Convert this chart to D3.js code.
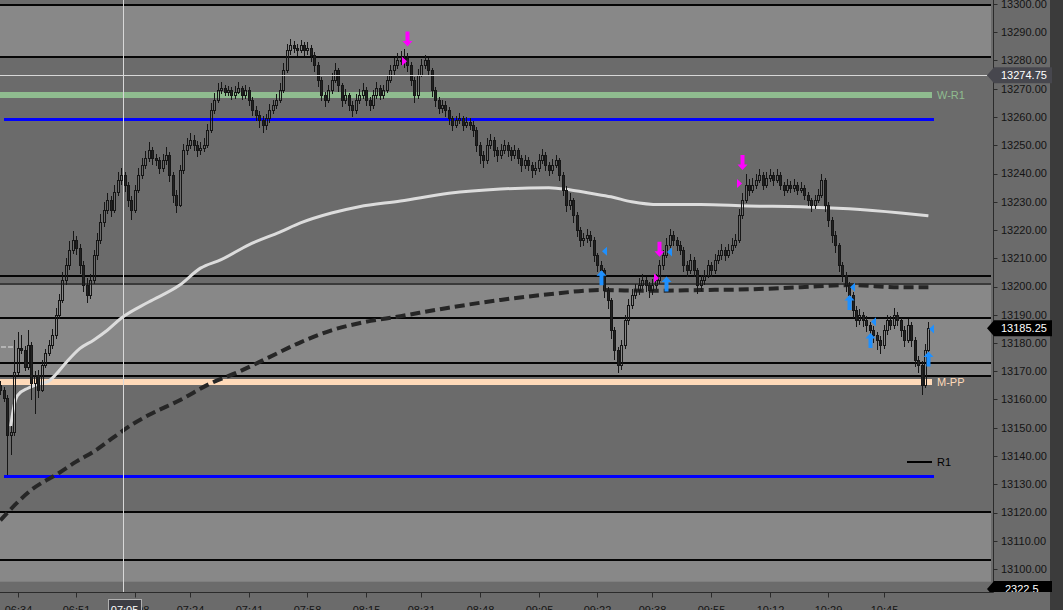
<!DOCTYPE html>
<html><head><meta charset="utf-8">
<script src="https://cdn.jsdelivr.net/npm/d3@7"></script>
<style>
html,body{margin:0;padding:0;background:#6b6b6b;overflow:hidden}
svg{display:block}
text{font-family:"Liberation Sans",Arial,sans-serif}
</style>
</head><body>
<svg id="c" width="1063" height="610"></svg>
<script>
// ---------- DATA ----------
const startTime = "06:29"; // first 1-minute bar
const opens = [
13165,13163.5,13160.5,13147.5,13148.5,13169.75,13178.25,13177.5,13171.5,13179.25,
13165.75,13168.75,13163.5,13172.25,13176.5,13179.25,13182.75,13190,13195.25,13202.25,
13207.5,13213,13216.5,13213.75,13207.5,13200.5,13197,13202.25,13211,13216.5,
13222.75,13227,13230.5,13227,13233.5,13237.75,13239.5,13236,13230.5,13227,
13234.25,13239.5,13243,13245.5,13248.25,13245.5,13244.75,13242,13244.75,13246.5,
13239.5,13232.5,13229,13241.25,13248.25,13250,13252,13250,13248.25,13249,
13250,13255.5,13262.5,13266,13269.5,13270.25,13269,13269.5,13267.75,13269,
13270.25,13267.75,13269.5,13266,13262.5,13260.75,13259,13257.25,13259.5,13262.5,
13264.25,13266,13269.5,13276.5,13283.75,13285.5,13284.5,13283.75,13285.5,13283.75,
13284.5,13282,13278.5,13273,13267.75,13266,13269.5,13273,13276.5,13271.25,
13266,13267.75,13264.25,13262.5,13266,13267.75,13269.5,13266,13264.25,13267.75,
13270.25,13267.75,13269.5,13273,13276.5,13278.5,13280.25,13280.25,13281,13278.5,
13273,13267.75,13275,13278.5,13280.25,13276.5,13269.5,13266,13263.25,13264.25,
13262.5,13259.5,13257.25,13259,13259.5,13257.25,13258.25,13257.25,13255.5,13250,
13246.5,13244.75,13250,13252,13248.25,13246.5,13248.25,13250,13248.25,13246.5,
13248.25,13245.5,13243,13244.75,13243,13241.25,13242,13244.75,13246.5,13243,
13241.25,13243,13244.75,13239.5,13234.25,13229,13230.5,13225.25,13220,13216.5,
13217.25,13218.25,13216.5,13211,13207.5,13205.75,13198.75,13195.25,13184.5,13177.5,
13172.25,13179.25,13188,13193.5,13197,13198.75,13200.5,13202.25,13200.5,13198.75,
13200.5,13202.25,13207.5,13211,13214.75,13218.25,13216.5,13214.75,13213,13207.5,
13205.75,13209.5,13205.75,13200.5,13202.25,13204,13207.5,13205.75,13209.5,13211,
13213,13211,13213,13214.75,13216.5,13225.25,13230.5,13236,13234.25,13236,
13237.75,13239.5,13236,13238.5,13239.5,13237.75,13239.5,13236,13234.25,13236,
13235,13236,13234.25,13235,13232.5,13230.5,13229,13230.5,13232.5,13237.75,
13229,13223.5,13218.25,13214.75,13207.5,13204,13200.5,13197,13191.75,13188,
13190,13188,13186.5,13184.5,13182.75,13181,13179.25,13184.5,13188,13186.5,
13190,13188,13184.5,13181,13186.5,13181,13174,13172.25,13165,13177.5];
const highs = [
13166.5,13164.25,13161.5,13150.5,13181,13184,13183,13179,13184.5,13180.5,
13170,13170.5,13174,13178,13181,13185,13192.5,13197.5,13205,13210,
13216,13219.5,13218,13215,13209,13203,13204.5,13213,13219,13225.5,
13230,13233,13232,13236,13240.5,13242,13240.5,13237,13232,13236,
13242,13245.5,13248,13251,13249.5,13247,13246,13247,13249.5,13247.5,
13240.5,13234,13243,13250.5,13252.5,13254.5,13253.5,13251.5,13251,13252.5,
13257.5,13265,13268.5,13272,13272.5,13271.5,13271,13270.5,13271,13272.5,
13271,13271.5,13270.5,13267,13264,13262,13260.5,13261,13264.5,13266,
13268,13272,13279,13286,13287.5,13287,13286,13287.25,13286.5,13286.5,
13285.5,13283,13279.5,13274,13269,13271.5,13275.5,13279,13277.5,13272,
13270,13268.5,13265.5,13268,13270,13272,13270.5,13267,13269.5,13272.5,
13271.5,13271.5,13275,13278.5,13281,13282.5,13283.5,13284,13282.5,13279.5,
13274,13277,13280.5,13282,13281,13277.5,13270.5,13267,13266,13265.5,
13263.5,13260.5,13260.5,13261.5,13260.5,13260,13259.5,13258.5,13256.5,13251,
13248,13252.5,13254,13253,13249.5,13250.5,13252,13251,13249.5,13250,
13249,13246.5,13246.5,13246,13244,13244,13247,13248.5,13247.5,13244,
13245,13246.5,13245.5,13240.5,13235.5,13233,13231.5,13226.5,13221,13219,
13220.5,13219.5,13217.5,13212,13209,13206.5,13200,13196,13185.5,13178.5,
13181,13190,13195.5,13199,13201,13203,13204.5,13203.5,13201.5,13202.5,
13204.5,13209.5,13213,13217,13220.5,13219.5,13217.5,13216,13214,13209,
13211.5,13210.5,13206.5,13204,13206,13209.5,13208.5,13211.5,13213,13215,
13214,13215,13217,13218.5,13227.5,13233,13240,13238,13238.5,13240,
13241.75,13240.5,13240.5,13241.75,13240.5,13241.5,13240.5,13237,13238,13237.5,
13238,13237,13237,13236,13233.5,13231.5,13232.5,13234.5,13240,13238.5,
13230,13224.5,13219.5,13215.5,13208.5,13205,13201.5,13198,13193,13192,
13191,13189.5,13187.5,13186,13184,13182.5,13186.5,13190,13189.5,13192.5,
13191,13189,13186,13188.5,13187.5,13182,13175.5,13173.5,13179.5,13187.5];
const lows = [
13161.5,13159,13133.25,13140.25,13147,13168.5,13176,13170,13170.5,13160,
13155,13160.5,13162.5,13171,13175.5,13178,13181.5,13188.5,13194,13200.5,
13206,13211.5,13211,13204.5,13198,13194,13195.5,13201,13209.5,13215,
13221,13225.5,13224.5,13226,13232,13236,13233.5,13228,13223.5,13226,
13233,13238,13241.5,13244,13243,13242.5,13240,13240.5,13243,13237,
13229.5,13226,13228,13240,13246.5,13248.5,13248,13246,13246.5,13247.5,
13249,13254.5,13261,13265,13268,13267.5,13267.5,13266,13266.5,13268,
13266,13266.5,13264,13260.5,13258.5,13256,13254.5,13255.5,13258,13261,
13263,13265,13268.5,13275.5,13282,13282.5,13281.5,13282.5,13281.5,13282,
13279.5,13276,13270.5,13265.5,13263.5,13265,13268,13272,13269,13263.5,
13264.5,13262,13260,13261,13264.5,13266.5,13264,13262,13263,13266.5,
13266,13266.5,13268.5,13272,13275,13277,13278.5,13277.5,13276,13271,
13265,13266.5,13274,13277,13274.5,13267,13263.5,13261,13261.5,13260,
13257,13255,13256,13257.5,13255,13256,13255.5,13253,13247.5,13243.5,
13242,13243.5,13248.5,13246,13244,13245,13247,13246,13244.5,13245,
13243.5,13240.5,13241.5,13241,13238.5,13239.5,13240.5,13243.5,13241,13239,
13240,13242,13237.5,13232,13226.5,13227,13222.5,13217.5,13214,13214.5,
13215.5,13214,13208.5,13205,13203,13196,13192,13181.5,13174,13169.5,
13170.5,13178,13186.5,13192,13195.5,13197,13199,13198,13196,13197,
13199,13201,13206,13210,13213.5,13214.5,13212.5,13211,13205,13203.5,
13204.5,13203.5,13197.5,13198.5,13200.5,13203,13203.5,13204.5,13208,13209.5,
13209,13210,13211.5,13213.5,13215.5,13224,13229.5,13232,13233,13234.5,
13236.5,13234,13235,13237,13235.5,13236.5,13234,13232,13233,13233,
13233.5,13232.5,13233,13230.5,13228.5,13226.5,13227.5,13229.5,13231.5,13226.5,
13221,13215.5,13212,13205,13201.5,13198,13194.5,13189,13185.5,13186.5,
13185.5,13184,13182,13180,13177.5,13176,13178,13183,13184.5,13185,
13186,13182,13178.5,13180,13178.5,13171.5,13169.5,13161.5,13164,13176.5];
const closes = [
13163.5,13160.5,13147.5,13148.5,13169.75,13178.25,13177.5,13171.5,13179.25,13165.75,
13168.75,13163.5,13172.25,13176.5,13179.25,13182.75,13190,13195.25,13202.25,13207.5,
13213,13216.5,13213.75,13207.5,13200.5,13197,13202.25,13211,13216.5,13222.75,
13227,13230.5,13227,13233.5,13237.75,13239.5,13236,13230.5,13227,13234.25,
13239.5,13243,13245.5,13248.25,13245.5,13244.75,13242,13244.75,13246.5,13239.5,
13232.5,13229,13241.25,13248.25,13250,13252,13250,13248.25,13249,13250,
13255.5,13262.5,13266,13269.5,13270.25,13269,13269.5,13267.75,13269,13270.25,
13267.75,13269.5,13266,13262.5,13260.75,13259,13257.25,13259.5,13262.5,13264.25,
13266,13269.5,13276.5,13283.75,13285.5,13284.5,13283.75,13285.5,13283.75,13284.5,
13282,13278.5,13273,13267.75,13266,13269.5,13273,13276.5,13271.25,13266,
13267.75,13264.25,13262.5,13266,13267.75,13269.5,13266,13264.25,13267.75,13270.25,
13267.75,13269.5,13273,13276.5,13278.5,13280.25,13280.25,13281,13278.5,13273,
13267.75,13275,13278.5,13280.25,13276.5,13269.5,13266,13263.25,13264.25,13262.5,
13259.5,13257.25,13259,13259.5,13257.25,13258.25,13257.25,13255.5,13250,13246.5,
13244.75,13250,13252,13248.25,13246.5,13248.25,13250,13248.25,13246.5,13248.25,
13245.5,13243,13244.75,13243,13241.25,13242,13244.75,13246.5,13243,13241.25,
13243,13244.75,13239.5,13234.25,13229,13230.5,13225.25,13220,13216.5,13217.25,
13218.25,13216.5,13211,13207.5,13205.75,13198.75,13195.25,13184.5,13177.5,13172.25,
13179.25,13188,13193.5,13197,13198.75,13200.5,13202.25,13200.5,13198.75,13200.5,
13202.25,13207.5,13211,13214.75,13218.25,13216.5,13214.75,13213,13207.5,13205.75,
13209.5,13205.75,13200.5,13202.25,13204,13207.5,13205.75,13209.5,13211,13213,
13211,13213,13214.75,13216.5,13225.25,13230.5,13236,13234.25,13236,13237.75,
13239.5,13236,13238.5,13239.5,13237.75,13239.5,13236,13234.25,13236,13235,
13236,13234.25,13235,13232.5,13230.5,13229,13230.5,13232.5,13237.75,13229,
13223.5,13218.25,13214.75,13207.5,13204,13200.5,13197,13191.75,13188,13190,
13188,13186.5,13184.5,13182.75,13181,13179.25,13184.5,13188,13186.5,13190,
13188,13184.5,13181,13186.5,13181,13174,13172.25,13165,13177.5,13185.25];

// moving averages (bar index, value)
const lightMAIdx = [3,4,5,8,11,14,16,19,23,27,31,35,43,52,58,64,72,81,87,96,104,116,130,145,159,165,171,177,183,191,203,217,232,246,261,269];
const lightMAVal = [13150.5,13158,13161.5,13164,13165.5,13166.5,13168.75,13173,13178,13181,13184.5,13188.75,13194.5,13200.5,13206.5,13209.5,13214.75,13219.25,13222.5,13226,13228.25,13230.25,13233,13234.5,13235,13234.25,13233,13231.75,13230,13229,13229,13228.5,13228.25,13227.5,13226,13225];
const darkMAIdx = [0,9,17,22,27,33,38,43,52,61,69,78,87,96,104,116,130,145,159,174,188,203,217,232,246,261,269];
const darkMAVal = [13117.25,13128,13134,13138,13141.5,13146.75,13151,13154.5,13159.75,13165.75,13169.75,13175,13180.25,13184.5,13187,13189.5,13192.5,13195.25,13197.25,13198.75,13198.5,13198.75,13199,13199.75,13200.5,13199.75,13199.75];

// horizontal levels
const shadedZones = [[13299.75,13281.25],[13201,13168.25],[13120.25,13095.5]];
const blackLevels = [13299.75,13281.25,13203.75,13188.75,13173,13168.25,13120.25,13103.25];
const grayLevels = [13201];
const blueLevels = [13259.25,13132.75];
const pivotNames = ["W-R1","M-PP","R1"];
const pivotPrices = [13267.75,13166.25,13138];
const pivotStartIdx = [0,0,263];
const pivotColors = ["#8fbc8f","#ffdab9","#000000"];
const pivotWidths = [6,6,2];
const priorDayPrice = 13178.5;

// signals
const buyIdx = [174,193,246,252,269];
const buyArrowPrice = [13205.75,13203.5,13197,13183.5,13177];
const buyMarkPrice = [13212.5,13212.25,13199.75,13187.5,13185];
const sellIdx = [118,191,215];
const sellArrowPrice = [13285,13210.5,13241.25];
const sellMarkPrice = [13279.75,13203,13236.5];

// axes
const priceTicks = [13300,13290,13280,13270,13260,13250,13240,13230,13220,13210,13200,13190,13180,13170,13160,13150,13140,13130,13120,13110,13100];
const timeTicks = ["06:34","06:51","07:08","07:24","07:41","07:58","08:15","08:31","08:48","09:05","09:22","09:38","09:55","10:12","10:29","10:45"];
const crossTime = "07:05";
const crossPrice = 13274.75;
const lastPrice = 13185.25;
const volumeLabel = "2322.5";

// ---------- DRAW ----------
const svg = d3.select("#c");
const plotR = 991, plotB = 582, axisX = 993.5, axisY = 592.5;
const mins = s => { const [h,m] = s.split(":").map(Number); return h*60+m; };
const idxOf = s => mins(s) - mins(startTime);
const x = d3.scaleLinear().domain([0, closes.length-1]).range([0.35, 928.4]);
const y = d3.scaleLinear().domain([13100, 13300]).range([569, 4]);
const fmt = d3.format(".2f");

svg.append("rect").attr("width",1063).attr("height",610).attr("fill","#6b6b6b");
const defs = svg.append("defs");
defs.append("clipPath").attr("id","plot").append("rect").attr("x",0).attr("y",0).attr("width",plotR).attr("height",plotB);
defs.append("clipPath").attr("id","raxis").append("rect").attr("x",980).attr("y",0).attr("width",83).attr("height",axisY-0.5);

const plot = svg.append("g").attr("clip-path","url(#plot)");

// zones
plot.selectAll("rect.zone").data(shadedZones).join("rect").attr("class","zone")
  .attr("x",0).attr("width",plotR)
  .attr("y",d=>y(d[0])).attr("height",d=>y(d[1])-y(d[0]))
  .attr("fill","#888888");

const hline = (g, p, x1, x2, color, w, dash) => {
  const yy = Math.round(y(p));
  const l = g.append("line").attr("x1",x1).attr("x2",x2).attr("y1",yy).attr("y2",yy)
    .attr("stroke",color).attr("stroke-width",w).attr("shape-rendering","crispEdges");
  if (dash) l.attr("stroke-dasharray",dash);
  return l;
};
blackLevels.forEach(p=>hline(plot,p,0,plotR,"#050505",2));
grayLevels.forEach(p=>hline(plot,p,0,plotR,"#3a3a3a",2));
blueLevels.forEach(p=>hline(plot,p,x(1),934,"#0000ff",3));
pivotPrices.forEach((p,i)=>{
  const x1 = pivotStartIdx[i]===0 ? 0 : x(pivotStartIdx[i]) - 1;
  hline(plot,p,x1,932,pivotColors[i],pivotWidths[i]);
  plot.append("text").attr("x",937).attr("y",y(p)).attr("dy","0.36em")
    .attr("font-size",11).attr("fill",pivotColors[i]).text(pivotNames[i]);
});
hline(plot,priorDayPrice,x(0)+1,x(4),"#b4b4b4",2,"5,2");

// moving averages
const lineGen = d3.line().x(d=>x(d[0])).y(d=>y(d[1])).curve(d3.curveMonotoneX);
plot.append("path").datum(lightMAIdx.map((d,i)=>[d,lightMAVal[i]]))
  .attr("d",lineGen).attr("fill","none").attr("stroke","#dcdcdc").attr("stroke-width",3);
plot.append("path").datum(darkMAIdx.map((d,i)=>[d,darkMAVal[i]]))
  .attr("d",lineGen).attr("fill","none").attr("stroke","#262626").attr("stroke-width",4)
  .attr("stroke-dasharray","10,5");

// candles
const bars = closes.map((c,i)=>({i,o:opens[i],h:highs[i],l:lows[i],c}));
const cg = plot.append("g").attr("shape-rendering","crispEdges");
bars.forEach(b=>{
  const cx = Math.round(x(b.i));
  const top = y(Math.max(b.o,b.c)), bot = y(Math.min(b.o,b.c));
  const bt = Math.round(top), bb = Math.max(Math.round(bot), bt+1);
  cg.append("line").attr("x1",cx+0.5).attr("x2",cx+0.5).attr("y1",y(b.h)).attr("y2",bt)
    .attr("stroke","#161616").attr("stroke-width",1);
  cg.append("line").attr("x1",cx+0.5).attr("x2",cx+0.5).attr("y1",bb).attr("y2",y(b.l))
    .attr("stroke","#161616").attr("stroke-width",1);
  cg.append("rect").attr("x",cx-1+0.5).attr("y",bt+0.5).attr("width",2).attr("height",bb-bt)
    .attr("fill", b.c < b.o ? "#222222" : "none")
    .attr("stroke","#161616").attr("stroke-width",1);
});

// signals
const upArrow = "M0,0 L5,5.5 L2,5.5 L2,15 L-2,15 L-2,5.5 L-5,5.5 Z";
const downArrow = "M0,0 L5,-5.5 L2,-5.5 L2,-15 L-2,-15 L-2,-5.5 L-5,-5.5 Z";
buyIdx.forEach((bi,k)=>{
  plot.append("path").attr("d",upArrow).attr("fill","#1e90ff")
    .attr("transform",`translate(${Math.round(x(bi))+0.5},${y(buyArrowPrice[k])})`);
  plot.append("path").attr("d","M0,0 L5,-4.5 L5,4.5 Z").attr("fill","#1e90ff")
    .attr("transform",`translate(${Math.round(x(bi))+1},${y(buyMarkPrice[k])})`);
});
sellIdx.forEach((si,k)=>{
  plot.append("path").attr("d",downArrow).attr("fill","#ff00ff")
    .attr("transform",`translate(${Math.round(x(si))+0.5},${y(sellArrowPrice[k])})`);
  plot.append("path").attr("d","M0,0 L-5,-4.5 L-5,4.5 Z").attr("fill","#ff00ff")
    .attr("transform",`translate(${Math.round(x(si))},${y(sellMarkPrice[k])})`);
});

// crosshair
const cxX = Math.floor(x(idxOf(crossTime))) - 0.5;
svg.append("line").attr("x1",cxX).attr("x2",cxX).attr("y1",0).attr("y2",axisY)
  .attr("stroke","#d8d8d8").attr("stroke-width",1);
const cyY = Math.round(y(crossPrice)) + 0.5;
svg.append("line").attr("x1",0).attr("x2",987).attr("y1",cyY).attr("y2",cyY)
  .attr("stroke","#d8d8d8").attr("stroke-width",1);

// right axis
svg.append("rect").attr("x",1050).attr("y",0).attr("width",13).attr("height",610).attr("fill","#3b3b3b");
svg.append("line").attr("x1",axisX).attr("x2",axisX).attr("y1",0).attr("y2",axisY)
  .attr("stroke","#2b2b2b").attr("stroke-width",1);
const ra = svg.append("g");
priceTicks.forEach(p=>{
  const yy = Math.round(y(p))+0.5;
  ra.append("line").attr("x1",axisX).attr("x2",axisX+4).attr("y1",yy).attr("y2",yy).attr("stroke","#2b2b2b");
  ra.append("text").attr("x",1001).attr("y",y(p)).attr("dy","0.36em").attr("font-size",11)
    .attr("fill","#141414").text(fmt(p));
});
const marker = (g, p, fill, label) => {
  const yc = y(p);
  g.append("path").attr("d",`M987,${yc} L994,${yc-8} L1052,${yc-8} L1052,${yc+8} L994,${yc+8} Z`).attr("fill",fill);
  g.append("text").attr("x",1001).attr("y",yc).attr("dy","0.36em").attr("font-size",11)
    .attr("fill","#ffffff").text(label);
};
const rg = svg.append("g").attr("clip-path","url(#raxis)");
marker(rg, crossPrice, "#47474e", fmt(crossPrice));
marker(rg, lastPrice, "#000000", fmt(lastPrice));
// volume marker (clipped at axis bottom)
{
  const yc = 589;
  rg.append("path").attr("d",`M987,${yc} L994,${yc-8} L1052,${yc-8} L1052,${yc+8} L994,${yc+8} Z`).attr("fill","#000");
  rg.append("text").attr("x",1005).attr("y",yc).attr("dy","0.36em").attr("font-size",11)
    .attr("fill","#fff").text(volumeLabel);
}

// bottom axis
svg.append("line").attr("x1",0).attr("x2",axisX).attr("y1",axisY).attr("y2",axisY)
  .attr("stroke","#2b2b2b").attr("stroke-width",1);
timeTicks.forEach(t=>{
  const xx = Math.round(x(idxOf(t)))+0.5;
  svg.append("line").attr("x1",xx).attr("x2",xx).attr("y1",axisY).attr("y2",axisY+5).attr("stroke","#2b2b2b");
  svg.append("text").attr("x",xx).attr("y",614).attr("text-anchor","middle").attr("font-size",11)
    .attr("fill","#141414").text(t);
});
{
  const xc = x(idxOf(crossTime));
  svg.append("rect").attr("x",Math.round(xc)-16.5).attr("y",599.5).attr("width",33).attr("height",16)
    .attr("fill","#3e3e44").attr("stroke","#b0b0b0").attr("stroke-width",1);
  svg.append("text").attr("x",xc).attr("y",614).attr("text-anchor","middle").attr("font-size",11)
    .attr("fill","#ffffff").text(crossTime);
}
</script>
</body></html>
